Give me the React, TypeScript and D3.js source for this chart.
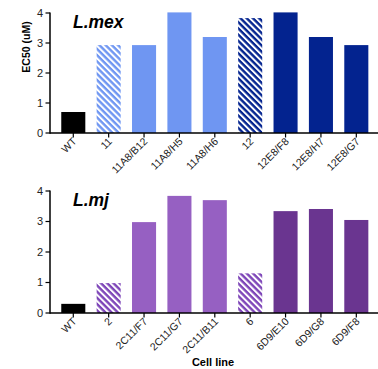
import * as d3 from "d3";

const mexLines = ["WT", "11", "11A8/B12", "11A8/H5", "11A8/H6", "12", "12E8/F8", "12E8/H7", "12E8/G7"];
const mexValues = [0.7, 2.93, 2.93, 4.02, 3.2, 3.83, 4.02, 3.2, 2.93];
const mexFills = ["#000000", "url(#hatchLightBlue)", "#6f96f2", "#6f96f2", "#6f96f2", "url(#hatchDarkBlue)", "#03238f", "#03238f", "#03238f"];

const mjLines = ["WT", "2", "2C11/F7", "2C11/G7", "2C11/B11", "6", "6D9/E10", "6D9/G8", "6D9/F8"];
const mjValues = [0.3, 0.98, 2.98, 3.84, 3.7, 1.3, 3.34, 3.41, 3.05];
const mjFills = ["#000000", "url(#hatchPurple)", "#9660c2", "#9660c2", "#9660c2", "url(#hatchPurple)", "#6a3590", "#6a3590", "#6a3590"];

const yTicks = [0, 1, 2, 3, 4];

const FONT = "Liberation Sans, Arial, sans-serif";

function Panel({ lines, values, fills, top, bottom, title, yLabel }: any) {
  const x = d3.scaleBand<string>().domain(lines).range([55.6, 374]).paddingInner(0.32).paddingOuter(0.16);
  const y = d3.scaleLinear().domain([0, 4]).range([bottom, top]);
  return (
    <g>
      {lines.map((l: string, i: number) => (
        <rect key={l} x={x(l)} y={y(values[i])} width={x.bandwidth()} height={y(0) - y(values[i])} fill={fills[i]} />
      ))}
      <line x1={50} x2={378} y1={y(0)} y2={y(0)} stroke="#000" strokeWidth={1.5} />
      <line x1={50} x2={50} y1={y(4) - 0.5} y2={y(0) + 0.75} stroke="#000" strokeWidth={1.5} />
      {yTicks.map((t) => (
        <g key={t}>
          <line x1={45.5} x2={50} y1={y(t)} y2={y(t)} stroke="#000" strokeWidth={1.2} />
          <text x={43} y={y(t)} dy="0.35em" textAnchor="end" fontSize={11} fontFamily={FONT} fill="#222">{t}</text>
        </g>
      ))}
      {lines.map((l: string) => {
        const cx = (x(l) as number) + x.bandwidth() / 2;
        return (
          <g key={"t" + l}>
            <line x1={cx} x2={cx} y1={y(0)} y2={y(0) + 4.5} stroke="#000" strokeWidth={1.2} />
            <text transform={`translate(${cx + 4},${y(0) + 9}) rotate(-45)`} textAnchor="end" fontSize={10.5} fontFamily={FONT} fill="#222">{l}</text>
          </g>
        );
      })}
      <text x={73} y={top + 14.5} fontSize={17.5} fontWeight="bold" fontStyle="italic" fontFamily={FONT} fill="#000">{title}</text>
      {yLabel && (
        <text transform={`translate(30,${top + 34}) rotate(-90)`} textAnchor="middle" fontSize={10.5} fontWeight="bold" fontFamily={FONT} fill="#000">{yLabel}</text>
      )}
    </g>
  );
}

export default function App() {
  return (
    <svg width={378} height={369} style={{ position: "absolute", left: 0, top: 0, background: "#fff" }}>
      <defs>
        <pattern id="hatchLightBlue" patternUnits="userSpaceOnUse" width={4.4} height={4.4} patternTransform="rotate(-45)">
          <rect width={4.4} height={4.4} fill="#6f96f2" />
          <rect width={2} height={4.4} fill="#fff" />
        </pattern>
        <pattern id="hatchDarkBlue" patternUnits="userSpaceOnUse" width={4.4} height={4.4} patternTransform="rotate(-45)">
          <rect width={4.4} height={4.4} fill="#03238f" />
          <rect width={2} height={4.4} fill="#fff" />
        </pattern>
        <pattern id="hatchPurple" patternUnits="userSpaceOnUse" width={4.4} height={4.4} patternTransform="rotate(-45)">
          <rect width={4.4} height={4.4} fill="#7d45b8" />
          <rect width={2} height={4.4} fill="#fff" />
        </pattern>
      </defs>
      <Panel lines={mexLines} values={mexValues} fills={mexFills} top={13} bottom={133} title="L.mex" yLabel="EC50 (uM)" />
      <Panel lines={mjLines} values={mjValues} fills={mjFills} top={191} bottom={313} title="L.mj" />
      <text x={213} y={366} textAnchor="middle" fontSize={11} fontWeight="bold" fontFamily={FONT} fill="#000">Cell line</text>
    </svg>
  );
}
